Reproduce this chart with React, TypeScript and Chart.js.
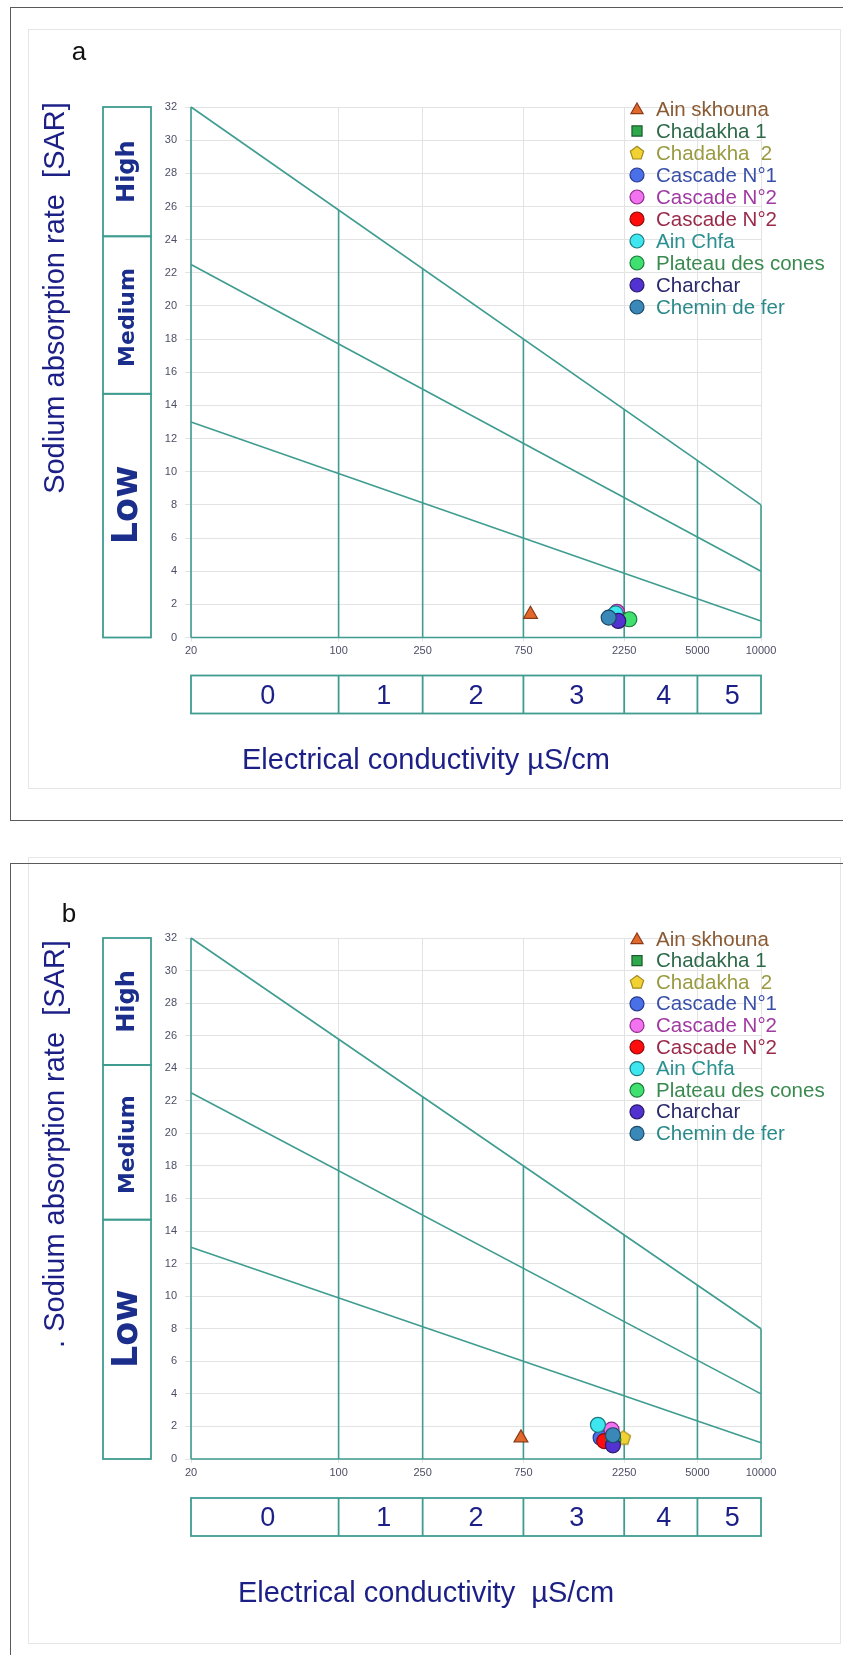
import React, { useEffect, useRef } from 'react';
import { Chart, registerables } from 'chart.js';

Chart.register(...registerables);

const FONT = '"Liberation Sans", Arial, Helvetica, sans-serif';
const BOLD_FONT = '"DejaVu Sans", Verdana, sans-serif';

// ---------- data ----------
const SERIES_NAMES = [
  'Ain skhouna',
  'Chadakha 1',
  'Chadakha  2',
  'Cascade N°1',
  'Cascade N°2',
  'Cascade N°2',
  'Ain Chfa',
  'Plateau des cones',
  'Charchar',
  'Chemin de fer',
];
const MARKERS = ['triangle', 'rect', 'pentagon', 'circle', 'circle', 'circle', 'circle', 'circle', 'circle', 'circle'];
const FILL_COLORS = ['#e2682c', '#2fa84c', '#f2d132', '#4a70e8', '#f272f0', '#ff0c0c', '#3ee6f0', '#40e070', '#5232d0', '#3a88b8'];
const EDGE_COLORS = ['#8a3a18', '#1b5a2c', '#a08a1e', '#2a3a90', '#8a2a8a', '#8a0a0a', '#1a7a80', '#1a7a3a', '#2a1a6a', '#1a4a6a'];
const LABEL_COLORS = ['#8a5a32', '#2e6a4a', '#9a9a42', '#3a50a8', '#a03aa0', '#9a2a4a', '#2a9090', '#3a8a50', '#2a2a6a', '#2a8a8a'];

// panel a : EC (µS/cm) and SAR for each series
const EC_A = [810, 2200, 2250, 1990, 2080, 2100, 2050, 2380, 2110, 1900];
const SAR_A = [1.4, 1.1, 1.1, 1.3, 1.55, 1.2, 1.45, 1.1, 1.0, 1.2];
// panel b
const EC_B = [730, 1950, 2230, 1740, 1960, 1810, 1690, 2000, 1990, 1990];
const SAR_B = [1.3, 1.25, 1.3, 1.3, 1.8, 1.1, 2.1, 1.2, 0.84, 1.46];

const X_TICKS = [20, 100, 250, 750, 2250, 5000, 10000];
const Y_MIN = 0;
const Y_MAX = 32;
const Y_STEP = 2;

const SALINITY_CLASSES = ['0', '1', '2', '3', '4', '5'];
const SODIUM_CLASSES = ['Low', 'Medium', 'High'];
const SODIUM_LIMITS = [0, 14.7, 24.2, 32];

// boundary lines (SAR at EC = 20 and EC = 10000)
const LINE_EC = [20, 10000];
const LINE_SAR_LOW = [13, 1];
const LINE_SAR_MED = [22.5, 4];
const LINE_SAR_HIGH = [32, 8];

// ---------- styling ----------
const TEAL = '#3f9c90';
const NAVY = '#1b1f86';
const CLASS_BLUE = '#1c2e8c';
const TICK_COLOR = '#4d4d66';
const GRID_COLOR = '#e3e3e3';
const SODIUM_LABEL_AT = [8.0, 19.3, 28.1];
const SODIUM_FONT = [35, 22, 24];

function polyPath(g: CanvasRenderingContext2D, cx: number, cy: number, r: number, n: number) {
  g.beginPath();
  for (let k = 0; k < n; k++) {
    const a = -Math.PI / 2 + (k * 2 * Math.PI) / n;
    const px = cx + r * Math.cos(a);
    const py = cy + r * Math.sin(a);
    if (k === 0) g.moveTo(px, py);
    else g.lineTo(px, py);
  }
  g.closePath();
}

function drawMarker(g: CanvasRenderingContext2D, style: string, x: number, y: number, r: number, fill: string, edge: string) {
  if (style === 'triangle') {
    polyPath(g, x, y + r * 0.15, r, 3);
  } else if (style === 'rect') {
    const h = r * 0.72;
    g.beginPath();
    g.rect(x - h, y - h, 2 * h, 2 * h);
  } else if (style === 'pentagon') {
    polyPath(g, x, y + r * 0.05, r, 5);
  } else {
    g.beginPath();
    g.arc(x, y, r, 0, Math.PI * 2);
  }
  g.fillStyle = fill;
  g.fill();
  g.strokeStyle = edge;
  g.lineWidth = 1.2;
  g.stroke();
}

function makePentagon(r: number, fill: string, edge: string) {
  const c = document.createElement('canvas');
  const s = Math.ceil(2 * r + 4);
  c.width = s;
  c.height = s;
  const g = c.getContext('2d') as CanvasRenderingContext2D;
  drawMarker(g, 'pentagon', s / 2, s / 2, r, fill, edge);
  return c;
}

interface PanelProps {
  letter: string;
  ec: number[];
  sar: number[];
  yTitle: string;
  xTitle: string;
  top: number;
  height: number;
  padTop: number;
  padBottom: number;
  letterPos: [number, number];
  legendTop: number;
  legendStep: number;
  boxTop: number;
  xTitleOffset: number;
  yTitleY: number;
}

function Panel(p: PanelProps) {
  const ref = useRef<HTMLCanvasElement | null>(null);

  useEffect(() => {
    const canvas = ref.current;
    if (!canvas) return;
    const R = 7.5;

    const datasets = SERIES_NAMES.map((name, i) => ({
      label: name,
      data: [{ x: p.ec[i], y: p.sar[i] }],
      pointStyle: MARKERS[i] === 'pentagon' ? makePentagon(R, FILL_COLORS[i], EDGE_COLORS[i]) : MARKERS[i],
      pointRadius: MARKERS[i] === 'triangle' ? 8 : R,
      backgroundColor: FILL_COLORS[i],
      borderColor: EDGE_COLORS[i],
      borderWidth: 1.2,
      order: -i,
    }));

    const lineValue = (ends: number[], x: number) => {
      const t = (Math.log(x) - Math.log(LINE_EC[0])) / (Math.log(LINE_EC[1]) - Math.log(LINE_EC[0]));
      return ends[0] + (ends[1] - ends[0]) * t;
    };

    const diagramPlugin = {
      id: 'diagram',
      beforeDatasetsDraw(chart: any) {
        const { ctx, chartArea: ca } = chart;
        const xs = chart.scales.x;
        const ys = chart.scales.y;
        ctx.save();
        ctx.strokeStyle = TEAL;
        ctx.lineWidth = 1.6;
        [LINE_SAR_LOW, LINE_SAR_MED, LINE_SAR_HIGH].forEach((ends) => {
          ctx.beginPath();
          ctx.moveTo(xs.getPixelForValue(LINE_EC[0]), ys.getPixelForValue(ends[0]));
          ctx.lineTo(xs.getPixelForValue(LINE_EC[1]), ys.getPixelForValue(ends[1]));
          ctx.stroke();
        });
        X_TICKS.forEach((v) => {
          const px = xs.getPixelForValue(v);
          ctx.beginPath();
          ctx.moveTo(px, ys.getPixelForValue(Y_MIN));
          ctx.lineTo(px, ys.getPixelForValue(lineValue(LINE_SAR_HIGH, v)));
          ctx.stroke();
        });
        ctx.beginPath();
        ctx.moveTo(ca.left, ys.getPixelForValue(Y_MIN));
        ctx.lineTo(ca.right, ys.getPixelForValue(Y_MIN));
        ctx.stroke();
        ctx.restore();
      },
      afterDraw(chart: any) {
        const { ctx, chartArea: ca } = chart;
        const xs = chart.scales.x;
        const ys = chart.scales.y;
        ctx.save();

        ctx.fillStyle = '#111';
        ctx.font = `26px ${FONT}`;
        ctx.textAlign = 'center';
        ctx.textBaseline = 'middle';
        ctx.fillText(p.letter, p.letterPos[0], p.letterPos[1]);

        // sodium hazard boxes on the left
        const bx0 = ca.left - 88;
        const bx1 = ca.left - 40;
        ctx.strokeStyle = TEAL;
        ctx.lineWidth = 1.8;
        SODIUM_CLASSES.forEach((name, i) => {
          const yb = ys.getPixelForValue(SODIUM_LIMITS[i]);
          const yt = ys.getPixelForValue(SODIUM_LIMITS[i + 1]);
          ctx.strokeRect(bx0, yt, bx1 - bx0, yb - yt);
          ctx.save();
          ctx.translate((bx0 + bx1) / 2 + 1, ys.getPixelForValue(SODIUM_LABEL_AT[i]));
          ctx.rotate(-Math.PI / 2);
          ctx.fillStyle = CLASS_BLUE;
          ctx.font = `bold ${SODIUM_FONT[i]}px ${BOLD_FONT}`;
          ctx.textAlign = 'center';
          ctx.textBaseline = 'middle';
          ctx.fillText(name, 0, 0);
          ctx.restore();
        });

        // salinity class boxes below
        const by0 = ca.bottom + p.boxTop;
        const by1 = by0 + 38;
        ctx.strokeStyle = TEAL;
        ctx.lineWidth = 1.8;
        ctx.strokeRect(ca.left, by0, ca.right - ca.left, by1 - by0);
        ctx.fillStyle = NAVY;
        ctx.font = `27px ${FONT}`;
        ctx.textAlign = 'center';
        ctx.textBaseline = 'middle';
        SALINITY_CLASSES.forEach((name, i) => {
          const x0 = xs.getPixelForValue(X_TICKS[i]);
          const x1 = xs.getPixelForValue(X_TICKS[i + 1]);
          if (i > 0) {
            ctx.beginPath();
            ctx.moveTo(x0, by0);
            ctx.lineTo(x0, by1);
            ctx.stroke();
          }
          ctx.fillText(name, (x0 + x1) / 2 + 3, (by0 + by1) / 2 + 2);
        });

        // axis titles
        ctx.font = `29px ${FONT}`;
        ctx.fillStyle = NAVY;
        ctx.fillText(p.xTitle, 426, ca.bottom + p.xTitleOffset);
        ctx.save();
        ctx.translate(56, p.yTitleY);
        ctx.rotate(-Math.PI / 2);
        ctx.fillText(p.yTitle, 0, 0);
        ctx.restore();

        // legend
        ctx.font = `20.5px ${FONT}`;
        ctx.textAlign = 'left';
        ctx.textBaseline = 'middle';
        SERIES_NAMES.forEach((name, i) => {
          const y = p.legendTop + i * p.legendStep;
          drawMarker(ctx, MARKERS[i], 637, y, 7, FILL_COLORS[i], EDGE_COLORS[i]);
          ctx.fillStyle = LABEL_COLORS[i];
          ctx.fillText(name, 656, y + 1);
        });

        ctx.restore();
      },
    };

    const chart = new Chart(canvas, {
      type: 'scatter',
      data: { datasets: datasets as any },
      options: {
        animation: false,
        responsive: false,
        maintainAspectRatio: false,
        layout: { padding: { left: 151, right: 82, top: p.padTop, bottom: p.padBottom } },
        plugins: { legend: { display: false }, tooltip: { enabled: false } },
        scales: {
          x: {
            type: 'logarithmic',
            min: X_TICKS[0],
            max: X_TICKS[X_TICKS.length - 1],
            afterBuildTicks: (s: any) => {
              s.ticks = X_TICKS.map((v) => ({ value: v }));
            },
            afterFit: (s: any) => {
              s.height = 24;
            },
            ticks: {
              autoSkip: false,
              maxRotation: 0,
              minRotation: 0,
              padding: 3,
              color: TICK_COLOR,
              font: { size: 11, family: FONT },
              callback: (v: any) => String(v),
            },
            grid: { color: GRID_COLOR, lineWidth: 1, tickLength: 4, drawTicks: true },
            border: { display: false },
          },
          y: {
            min: Y_MIN,
            max: Y_MAX,
            afterFit: (s: any) => {
              s.width = 40;
            },
            ticks: {
              stepSize: Y_STEP,
              padding: 8,
              color: TICK_COLOR,
              font: { size: 11, family: FONT },
            },
            grid: { color: GRID_COLOR, lineWidth: 1, tickLength: 6, drawTicks: true },
            border: { display: false },
          },
        },
      },
      plugins: [diagramPlugin],
    } as any);

    return () => chart.destroy();
  }, []);

  return (
    <canvas
      ref={ref}
      width={843}
      height={p.height}
      style={{ position: 'absolute', left: 0, top: p.top, width: 843, height: p.height }}
    />
  );
}

export default function App() {
  const frame = (style: React.CSSProperties) => <div style={{ position: 'absolute', boxSizing: 'border-box', ...style }} />;
  return (
    <div style={{ position: 'relative', width: 843, height: 1655, overflow: 'hidden', background: '#fff' }}>
      <style>{`body{margin:0;background:#fff}`}</style>
      {frame({ left: 28, top: 29, width: 813, height: 760, border: '1px solid #e6e6e6' })}
      {frame({ left: 10, top: 7, width: 900, height: 814, border: '1.5px solid #5a5a5a' })}
      {frame({ left: 28, top: 857, width: 813, height: 787, border: '1px solid #e6e6e6' })}
      {frame({ left: 10, top: 863, width: 900, height: 900, border: '1.5px solid #5a5a5a' })}
      <Panel
        letter="a"
        ec={EC_A}
        sar={SAR_A}
        yTitle="Sodium absorption rate  [SAR]"
        xTitle="Electrical conductivity µS/cm"
        top={0}
        height={830}
        padTop={107}
        padBottom={168.5}
        letterPos={[79, 53]}
        legendTop={109}
        legendStep={22}
        boxTop={38}
        xTitleOffset={123}
        yTitleY={298}
      />
      <Panel
        letter="b"
        ec={EC_B}
        sar={SAR_B}
        yTitle=". Sodium absorption rate  [SAR]"
        xTitle="Electrical conductivity  µS/cm"
        top={830}
        height={825}
        padTop={108}
        padBottom={172}
        letterPos={[69, 85]}
        legendTop={109}
        legendStep={21.6}
        boxTop={39}
        xTitleOffset={135}
        yTitleY={314}
      />
    </div>
  );
}
